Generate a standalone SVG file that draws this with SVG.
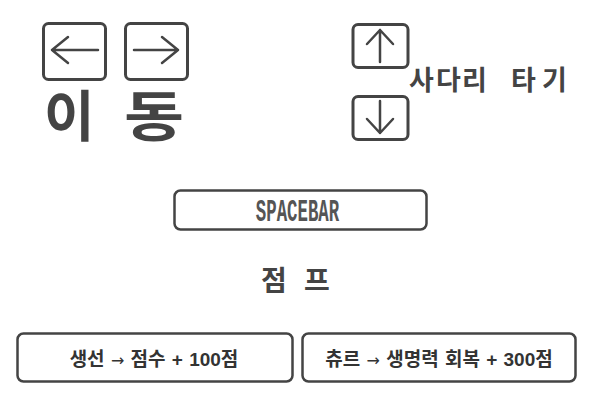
<svg xmlns="http://www.w3.org/2000/svg" width="600" height="400" viewBox="0 0 600 400">
<style>
.key{fill:none;stroke:#444;stroke-width:3;}
.arr{fill:none;stroke:#444;stroke-width:2.5;stroke-linecap:round;stroke-linejoin:round;}
.box{fill:#fff;stroke:#444;stroke-width:2.5;}
.kr{font-family:"Noto Sans CJK KR","Noto Sans",sans-serif;font-weight:700;fill:#444;}
.lbl{font-family:"Liberation Sans","Noto Sans CJK KR",sans-serif;font-weight:700;fill:#333;font-size:19px;text-anchor:middle;word-spacing:1px;}
.ar{font-family:"DejaVu Sans",sans-serif;font-weight:400;font-size:16px;}
</style>
<rect width="600" height="400" fill="#fff"/>
<g id="key-left">
<rect class="key" x="43.5" y="23.5" width="62" height="56" rx="5"/>
<path class="arr" d="M52 50 H98 M68 37 L52 50 L68 63"/>
</g>
<g id="key-right">
<rect class="key" x="125.5" y="23.5" width="62" height="56" rx="5"/>
<path class="arr" d="M134 50 H178 M162 37 L178 50 L162 63"/>
</g>
<g id="label-move">
<text class="kr" font-size="55" y="136"><tspan x="44">이</tspan> <tspan x="124" textLength="60" lengthAdjust="spacingAndGlyphs">동</tspan></text>
</g>
<g id="key-up">
<rect class="key" x="353" y="24.5" width="55" height="43" rx="5"/>
<path class="arr" d="M380 30 V62 M367 44 L380 30 L393 44"/>
</g>
<g id="key-down">
<rect class="key" x="353" y="96.5" width="55" height="43" rx="5"/>
<path class="arr" d="M380 101 V133 M367 119 L380 133 L393 119"/>
</g>
<g id="label-ladder">
<text class="kr" y="90" font-size="27"><tspan x="409">사</tspan><tspan x="436">다</tspan><tspan x="462">리</tspan> <tspan x="511">타</tspan><tspan x="542">기</tspan></text>
</g>
<g id="key-space">
<rect class="box" x="174.5" y="190.5" width="252" height="39" rx="6"/>
<text transform="translate(297.5,221) scale(0.56,1)" x="0" y="0" font-family="'Liberation Mono',monospace" font-weight="700" font-size="31" fill="#555" text-anchor="middle">SPACEBAR</text>
</g>
<g id="label-jump">
<text class="kr" y="291" font-size="28"><tspan x="261">점</tspan> <tspan x="304">프</tspan></text>
</g>
<g id="info-fish">
<rect class="box" x="17.5" y="333.5" width="275" height="48" rx="6"/>
<text class="lbl" x="154" y="366">생선 <tspan class="ar">→</tspan> 점수 + 100점</text>
</g>
<g id="info-churu">
<rect class="box" x="302.5" y="333.5" width="273" height="48" rx="6"/>
<text class="lbl" x="439" y="366">츄르 <tspan class="ar">→</tspan> 생명력 회복 + 300점</text>
</g>
<g id="connectors"></g>
</svg>
